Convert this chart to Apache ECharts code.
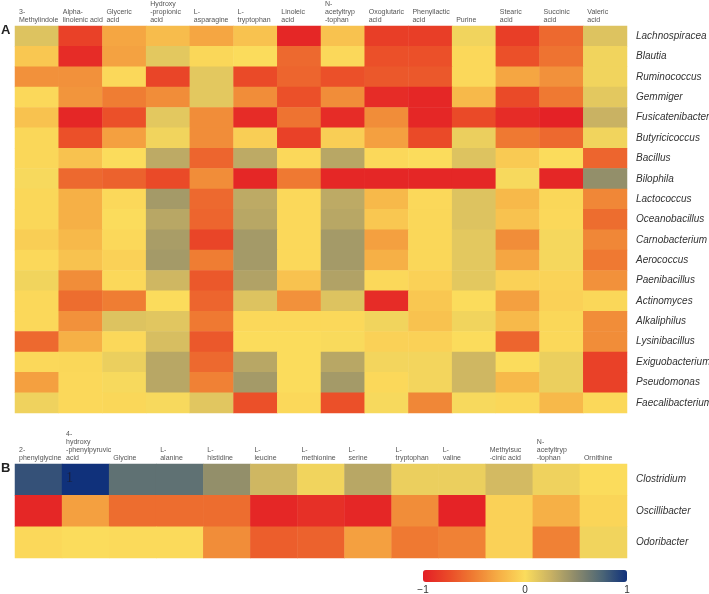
<!DOCTYPE html>
<html>
<head>
<meta charset="utf-8">
<script src="https://cdn.jsdelivr.net/npm/echarts@6/dist/echarts.min.js"></script>
<style>html,body{margin:0;padding:0;background:#fff}#c{width:709px;height:594px}</style>
</head>
<body>
<div id="c"></div>
<script>
// ---- Panel A ----
const colsA = ["3-\nMethylindole", "Alpha-\nlinolenic acid", "Glyceric\nacid", "Hydroxy\n-propionic\nacid", "L-\nasparagine", "L-\ntryptophan", "Linoleic\nacid", "N-\nacetyltryp\n-tophan", "Oxoglutaric\nacid", "Phenyllactic\nacid", "Purine", "Stearic\nacid", "Succinic\nacid", "Valeric\nacid"];
const rowsA = ["Lachnospiracea", "Blautia", "Ruminococcus", "Gemmiger", "Fusicatenibacter", "Butyricicoccus", "Bacillus", "Bilophila", "Lactococcus", "Oceanobacillus", "Carnobacterium", "Aerococcus", "Paenibacillus", "Actinomyces", "Alkaliphilus", "Lysinibacillus", "Exiguobacterium", "Pseudomonas", "Faecalibacterium"];
const valuesA = [
  [0.15, -0.80, -0.30, -0.18, -0.30, -0.15, -0.95, -0.15, -0.82, -0.82, 0.05, -0.82, -0.60, 0.15],
  [-0.12, -0.92, -0.32, 0.12, -0.03, 0.00, -0.60, -0.02, -0.72, -0.72, -0.02, -0.72, -0.55, 0.05],
  [-0.40, -0.40, -0.02, -0.78, 0.12, -0.75, -0.62, -0.72, -0.68, -0.68, -0.02, -0.30, -0.40, 0.05],
  [-0.02, -0.38, -0.50, -0.42, 0.12, -0.42, -0.72, -0.42, -0.92, -0.95, -0.20, -0.75, -0.52, 0.12],
  [-0.15, -0.95, -0.72, 0.12, -0.42, -0.92, -0.55, -0.92, -0.42, -0.95, -0.75, -0.92, -0.98, 0.25],
  [-0.03, -0.72, -0.33, 0.05, -0.42, -0.08, -0.80, -0.08, -0.33, -0.75, 0.08, -0.52, -0.60, 0.05],
  [-0.03, -0.15, 0.00, 0.30, -0.62, 0.30, -0.02, 0.32, -0.02, 0.00, 0.15, -0.10, 0.00, -0.62],
  [0.02, -0.60, -0.63, -0.75, -0.42, -0.95, -0.52, -0.95, -0.95, -0.95, -0.95, 0.02, -0.95, 0.47],
  [-0.03, -0.25, -0.02, 0.40, -0.60, 0.30, -0.02, 0.30, -0.20, -0.02, 0.15, -0.20, -0.03, -0.45],
  [-0.03, -0.25, 0.00, 0.32, -0.62, 0.32, -0.02, 0.32, -0.12, -0.03, 0.15, -0.15, -0.02, -0.58],
  [-0.08, -0.20, -0.02, 0.38, -0.78, 0.40, -0.02, 0.40, -0.33, -0.03, 0.12, -0.42, 0.03, -0.45],
  [-0.02, -0.15, -0.06, 0.40, -0.50, 0.40, -0.02, 0.40, -0.25, -0.03, 0.12, -0.30, 0.03, -0.52],
  [0.05, -0.42, -0.02, 0.22, -0.68, 0.35, -0.15, 0.35, -0.02, -0.06, 0.12, -0.06, -0.05, -0.40],
  [-0.02, -0.58, -0.50, 0.00, -0.62, 0.15, -0.40, 0.15, -0.92, -0.12, 0.00, -0.33, -0.06, -0.03],
  [-0.02, -0.40, 0.15, 0.13, -0.52, -0.02, -0.02, -0.02, 0.05, -0.15, 0.05, -0.20, -0.03, -0.42],
  [-0.60, -0.25, -0.02, 0.18, -0.68, 0.00, 0.00, 0.01, -0.06, -0.06, 0.00, -0.62, -0.02, -0.42],
  [-0.02, -0.03, 0.08, 0.32, -0.60, 0.32, 0.00, 0.32, 0.04, 0.04, 0.22, 0.00, 0.08, -0.80],
  [-0.33, -0.02, 0.02, 0.32, -0.48, 0.40, 0.00, 0.40, -0.02, 0.04, 0.22, -0.20, 0.08, -0.80],
  [0.06, -0.02, -0.03, 0.02, 0.13, -0.72, -0.02, -0.72, 0.02, -0.45, 0.02, -0.03, -0.20, -0.02]
];
// ---- Panel B ----
const colsB = ["2-\nphenylglycine", "4-\nhydroxy\n-phenylpyruvic\nacid", "Glycine", "L-\nalanine", "L-\nhistidine", "L-\nleucine", "L-\nmethionine", "L-\nserine", "L-\ntryptophan", "L-\nvaline", "Methylsuc\n-cinic acid", "N-\nacetyltryp\n-tophan", "Ornithine"];
const rowsB = ["Clostridium", "Oscillibacter", "Odoribacter"];
const valuesB = [
  [0.85, 1.00, 0.68, 0.68, 0.47, 0.22, 0.05, 0.32, 0.08, 0.08, 0.20, 0.06, 0.00],
  [-0.95, -0.33, -0.58, -0.58, -0.58, -0.95, -0.90, -0.95, -0.42, -0.97, -0.06, -0.25, -0.04],
  [-0.02, 0.00, -0.01, -0.01, -0.42, -0.65, -0.63, -0.33, -0.52, -0.48, -0.06, -0.48, 0.05]
];
// ---- colour bar ----
const scaleTicks = [-1, 0, 1];
const scaleLabels = ["\u22121", "0", "1"];

function toCells(vals) {
  const out = [];
  vals.forEach((row, r) => row.forEach((v, c) => out.push([c, r, v])));
  return out;
}

const chart = echarts.init(document.getElementById('c'), null, {renderer: 'canvas'});
const headerLabel = (cols) => ({
  show: true, fontSize: 7, lineHeight: 8, color: '#555', fontFamily: 'Liberation Sans',
  align: 'left', verticalAlign: 'bottom', margin: 2, padding: [0, 0, 0, 4],
  showMaxLabel: false,
  formatter: (v) => cols[Math.round(v)] || ''
});
const rowLabel = {fontSize: 10, fontStyle: 'italic', color: '#333', fontFamily: 'Liberation Sans', margin: 9};

chart.setOption({
  animation: false,
  grid: [
    {left: 15, right: 82, top: 26, height: 387, outerBoundsMode: 'none', containLabel: false},
    {left: 15, right: 82, top: 464, height: 94, outerBoundsMode: 'none', containLabel: false},
    {left: 423, width: 204, top: 570, height: 12, outerBoundsMode: 'none', containLabel: false}
  ],
  xAxis: [
    {type: 'category', gridIndex: 0, data: colsA, show: false},
    {type: 'value', gridIndex: 0, position: 'top', min: 0, max: colsA.length, interval: 1,
     axisLine: {show: false}, axisTick: {show: false}, splitLine: {show: false}, axisLabel: headerLabel(colsA)},
    {type: 'category', gridIndex: 1, data: colsB, show: false},
    {type: 'value', gridIndex: 1, position: 'top', min: 0, max: colsB.length, interval: 1,
     axisLine: {show: false}, axisTick: {show: false}, splitLine: {show: false}, axisLabel: headerLabel(colsB)},
    {type: 'value', gridIndex: 2, position: 'bottom', min: -1, max: 1, interval: 1,
     axisLine: {show: false}, axisTick: {show: false}, splitLine: {show: false},
     axisLabel: {fontSize: 10, color: '#333', fontFamily: 'Liberation Sans', margin: 3,
       formatter: (v) => scaleLabels[scaleTicks.indexOf(v)]}}
  ],
  yAxis: [
    {type: 'category', gridIndex: 0, data: rowsA, inverse: true, position: 'right',
     axisLine: {show: false}, axisTick: {show: false}, axisLabel: rowLabel},
    {type: 'category', gridIndex: 1, data: rowsB, inverse: true, position: 'right',
     axisLine: {show: false}, axisTick: {show: false}, axisLabel: rowLabel},
    {type: 'value', gridIndex: 2, show: false, min: 0, max: 1}
  ],
  visualMap: {
    type: 'continuous', min: -1, max: 1, orient: 'horizontal', left: 423, top: 570,
    itemWidth: 12, itemHeight: 204, padding: 0, calculable: false, seriesIndex: [0, 1],
    text: null, showLabel: false,
    inRange: {color: ['#e41e26', '#ea4a28', '#ef7d33', '#f6b046', '#fbdc5c', '#c9b263', '#8c8a6b', '#4d6776', '#10317b']}
  },
  series: [
    {type: 'heatmap', xAxisIndex: 0, yAxisIndex: 0, data: toCells(valuesA), emphasis: {disabled: true}},
    {type: 'heatmap', xAxisIndex: 2, yAxisIndex: 1, data: toCells(valuesB), emphasis: {disabled: true}}
  ],
  graphic: [
    {type: 'text', left: 1, top: 24, style: {text: 'A', fontSize: 13, fontWeight: 'bold', fill: '#222', fontFamily: 'Liberation Sans'}},
    {type: 'text', left: 1, top: 462, style: {text: 'B', fontSize: 13, fontWeight: 'bold', fill: '#222', fontFamily: 'Liberation Sans'}},
    {type: 'text', left: 66, top: 471, z: 100, style: {text: '1', fontSize: 14, fill: '#1a1f3a', fontFamily: 'Liberation Serif'}}
  ]
});
</script>
</body>
</html>
